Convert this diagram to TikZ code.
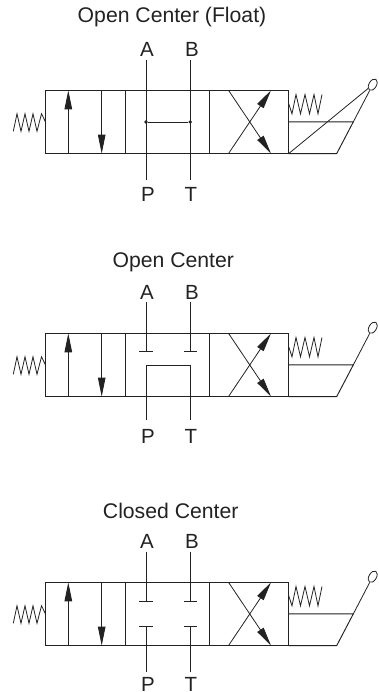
\documentclass[tikz,border=0pt]{standalone}
\usepackage{fontspec}
\setmainfont{Liberation Sans}
\usetikzlibrary{arrows.meta,shapes.geometric}
\definecolor{ink}{HTML}{222222}
\tikzset{
  x=1pt,y=-1pt,
  wire/.style={draw=ink,line width=0.95pt},
  thin wire/.style={draw=ink,line width=0.8pt},
  headed/.style={wire,-{Triangle[length=19pt,width=7.5pt]},shorten >=0pt},
  title/.style={font=\fontsize{21.2}{23}\selectfont,text=ink,inner sep=0pt},
  port/.style={font=\fontsize{20.5}{22}\selectfont,text=ink,inner sep=0pt},
  junction/.style={circle,fill=ink,inner sep=0pt,minimum size=3.8pt},
  lever/.style={draw=ink,line width=0.8pt,ellipse,inner sep=0pt,minimum width=12.5pt,minimum height=7.5pt,rotate=60}
}
% #1 prefix, #2 panel top y, all shapes common to the three valves
\newcommand{\valvebody}[2]{%
\begin{scope}[shift={(0,#2)}]
  \coordinate (#1tl) at (45.7,0);
  \coordinate (#1bl) at (45.7,63.3);
  \coordinate (#1tr) at (288.7,0);
  \coordinate (#1br) at (288.7,63.3);
  \coordinate (#1mr) at (288.7,31.6);
  \coordinate (#1foot) at (336.7,63.3);
  \coordinate (#1knee) at (353.3,31.6);
  \coordinate (#1s1) at (125,0);   \coordinate (#1s2) at (125,63.3);
  \coordinate (#1c1) at (209.3,0); \coordinate (#1c2) at (209.3,63.3);
  \coordinate (#1u1) at (68.3,63.3); \coordinate (#1u2) at (68.3,0);
  \coordinate (#1d1) at (101.7,0);   \coordinate (#1d2) at (101.7,63.3);
  \coordinate (#1x1) at (228.5,63.3); \coordinate (#1x2) at (271,0);
  \coordinate (#1x3) at (228.5,0);    \coordinate (#1x4) at (271,63.3);
  \node[lever] (#1hand) at (372.7,-5.6) {};
  \draw[wire] (#1tl) -- (#1tr) -- (#1br) -- (#1bl) -- cycle;
  \draw[wire] (#1s1) -- (#1s2);
  \draw[wire] (#1c1) -- (#1c2);
  \draw[headed] (#1u1) -- (#1u2);
  \draw[headed] (#1d1) -- (#1d2);
  \draw[headed,line width=0.8pt] (#1x1) -- (#1x2);
  \draw[headed,line width=0.8pt] (#1x3) -- (#1x4);
  \draw[wire] (#1br) -- (#1foot) -- (#1knee) -- (#1mr);
  \draw[thin wire] (#1knee) -- (#1hand);
  \draw[thin wire] (13.3,41) -- (17,23.5) -- (21,41) -- (25,23.5) -- (29,41) -- (33,23.5) -- (37,41) -- (41.5,23.5) -- (45.7,32);
  \draw[thin wire] (288.7,13.5) -- (292,23.5) -- (296,4.2) -- (300.5,23.5) -- (305,4.2) -- (309.5,23.5) -- (314,4.2) -- (318,23.5) -- (322,4.2);
\end{scope}}
\begin{document}
\begin{tikzpicture}
\useasboundingbox (0,0) rectangle (379,692);

% --- Open Center (Float)
\valvebody{a}{90.3}
\node[title] (ta) at (172,17.5) {Open Center (Float)};
\node[port] (aA) at (147,49.5) {A};
\node[port] (aB) at (192,49.5) {B};
\node[port] (aP) at (148,194.5) {P};
\node[port] (aT) at (191,194.5) {T};
\coordinate (aAt) at (146,60);  \coordinate (aPb) at (146,180);
\coordinate (aBt) at (190.3,60); \coordinate (aTb) at (190.3,180);
\draw[thin wire] (aAt) -- (aPb);
\draw[thin wire] (aBt) -- (aTb);
\node[junction] (aj1) at (146,122) {};
\node[junction] (aj2) at (190.3,122) {};
\draw[thin wire] (aj1) -- (aj2);
\draw[thin wire] (abr) -- (ahand);

% --- Open Center
\valvebody{b}{333.3}
\node[title] (tb) at (173.3,262.5) {Open Center};
\node[port] (bA) at (147,292) {A};
\node[port] (bB) at (192,292) {B};
\node[port] (bP) at (148,436.5) {P};
\node[port] (bT) at (191,436.5) {T};
\coordinate (bAt) at (146,302);  \coordinate (bAs) at (146,351.7);
\coordinate (bBt) at (190.5,302); \coordinate (bBs) at (190.5,351.7);
\coordinate (bAl) at (139.3,351.7); \coordinate (bAr) at (152.7,351.7);
\coordinate (bBl) at (184,351.7);   \coordinate (bBr) at (197.3,351.7);
\coordinate (bPb) at (146,420);   \coordinate (bPc) at (146,365);
\coordinate (bTb) at (190.5,420); \coordinate (bTc) at (190.5,365);
\draw[thin wire] (bAt) -- (bAs);
\draw[thin wire] (bBt) -- (bBs);
\draw[thin wire] (bAl) -- (bAr);
\draw[thin wire] (bBl) -- (bBr);
\draw[thin wire] (bPb) -- (bPc) -- (bTc) -- (bTb);

% --- Closed Center
\valvebody{c}{582.3}
\node[title] (tc) at (170.7,510.7) {Closed Center};
\node[port] (cA) at (147,541) {A};
\node[port] (cB) at (192,541) {B};
\node[port] (cP) at (148,684) {P};
\node[port] (cT) at (191,684) {T};
\coordinate (cAt) at (146,551.7);  \coordinate (cAs) at (146,601);
\coordinate (cBt) at (190.5,551.7); \coordinate (cBs) at (190.5,601);
\coordinate (cPb) at (146,672.3);  \coordinate (cPs) at (146,626);
\coordinate (cTb) at (190.5,672.3); \coordinate (cTs) at (190.5,626);
\coordinate (cAl) at (139.3,601); \coordinate (cAr) at (152.7,601);
\coordinate (cBl) at (184,601);   \coordinate (cBr) at (197.3,601);
\coordinate (cPl) at (139.3,626); \coordinate (cPr) at (152.7,626);
\coordinate (cTl) at (184,626);   \coordinate (cTr) at (197.3,626);
\draw[thin wire] (cAt) -- (cAs);
\draw[thin wire] (cBt) -- (cBs);
\draw[thin wire] (cPb) -- (cPs);
\draw[thin wire] (cTb) -- (cTs);
\draw[thin wire] (cAl) -- (cAr);
\draw[thin wire] (cBl) -- (cBr);
\draw[thin wire] (cPl) -- (cPr);
\draw[thin wire] (cTl) -- (cTr);
\end{tikzpicture}
\end{document}
